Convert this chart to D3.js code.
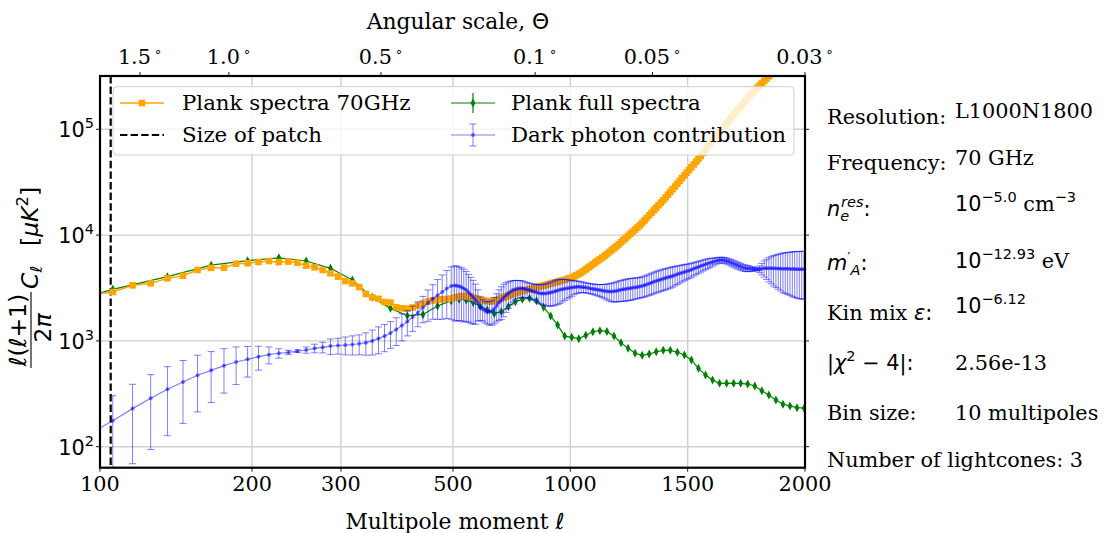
<!DOCTYPE html>
<html><head><meta charset="utf-8">
<script src="https://cdn.jsdelivr.net/npm/d3@7"></script>
<style>body{margin:0;background:#fff}svg{display:block}</style>
</head><body>
<svg id="c" width="1105" height="533"></svg>
<script>
// ---------------- DATA ----------------
// bin centres (10-multipole bins)
const binCentres = [96,106,116,126,136,146,156,166,176,186,196,206,216,226,236,246,256,266,276,286,296,306,316,326,336,346,356,366,376,386,396,406,416,426,436,446,456,466,476,486,496,506,516,526,536,546,556,566,576,586,596,606,616,626,636,646,656,666,676,686,696,706,716,726,736,746,756,766,776,786,796,806,816,826,836,846,856,866,876,886,896,906,916,926,936,946,956,966,976,986,996,
1006,1016,1026,1036,1046,1056,1066,1076,1086,1096,1106,1116,1126,1136,1146,1156,1166,1176,1186,1196,1206,1216,1226,1236,1246,1256,1266,1276,1286,1296,1306,1316,1326,1336,1346,1356,1366,1376,1386,1396,1406,1416,1426,1436,1446,1456,1466,1476,1486,1496,1506,1516,1526,1536,1546,1556,1566,1576,1586,1596,1606,1616,1626,1636,1646,1656,1666,1676,1686,1696,1706,1716,1726,1736,1746,1756,1766,1776,1786,1796,1806,1816,1826,1836,1846,1856,1866,1876,1886,1896,1906,1916,1926,1936,1946,1956,1966,1976,1986,1996];

// Plank spectra 70GHz  [muK^2]
const orangeValues = [2730,2900,3350,3500,3900,4130,4680,4900,4920,5370,5420,5570,5690,5550,5620,5480,5140,4960,4680,4350,4050,3680,3500,3230,2780,2580,2500,2330,2300,2080,2030,2015,2070,2160,2260,2360,2410,2440,2470,2490,2510,2550,2590,2620,2650,2660,2650,2630,2600,2560,2530,2490,2450,2430,2400,2380,2360,2370,2400,2440,2480,2530,2580,2620,2680,2730,2780,2830,2880,2930,2960,3000,3040,3080,3120,3160,3200,3250,3300,3340,3380,3430,3480,3530,3580,3630,3680,3730,3780,3840,3900,
3950,4060,4180,4300,4420,4570,4740,4920,5100,5300,5500,5700,5910,6140,6370,6620,6900,7190,7500,7820,8170,8550,8950,9380,9820,10280,10770,11270,11800,12360,13000,13740,14520,15350,16220,17140,18110,19140,20230,21380,22700,24100,25590,27160,28840,30620,32510,34510,36640,38900,41300,43850,46560,49430,52480,55980,59980,64270,68870,73790,78700,83560,88720,94190,100000,106400,113500,121100,129100,137700,146200,155200,164800,175000,185800,196800,208000,219800,232300,245500,258200,271600,285800,300600,316200,332700,349900,368100,387300,407400,428500,450800,474200,498900,524800,552100,580800,611000,642700,676100];

// Dark photon contribution (value and 1-sigma error)
const blueValues = [135,176,229,287,349,409,473,527,583,632,670,709,741,764,780,800,820,851,870,893,905,913,925,940,962,1000,1055,1110,1185,1280,1400,1525,1680,1850,2060,2280,2500,2700,2900,3130,3300,3330,3320,3280,3220,3130,3030,2880,2730,2590,2440,2290,2080,2000,1930,1890,1880,1920,2010,2150,2300,2420,2560,2700,2820,2930,3020,3080,3120,3140,3130,3100,3060,3020,2970,2920,2870,2830,2810,2800,2810,2830,2860,2900,2950,3000,3040,3080,3110,3140,3160,
3190,3220,3240,3250,3240,3220,3190,3160,3130,3100,3070,3040,3020,2990,2960,2940,2925,2925,2940,2970,3010,3040,3070,3100,3130,3150,3180,3200,3230,3260,3300,3350,3410,3480,3550,3620,3690,3750,3810,3870,3930,3990,4050,4110,4180,4260,4340,4410,4480,4550,4620,4700,4800,4900,5000,5100,5200,5300,5390,5480,5570,5660,5740,5800,5820,5780,5700,5600,5480,5370,5250,5130,5020,4930,4870,4830,4800,4780,4760,4750,4760,4800,4850,4860,4860,4860,4850,4840,4830,4820,4810,4800,4800,4790,4780,4770,4760,4750,4750,4750];
const blueErrors = [100,127,160,193,222,243,260,265,262,245,215,180,135,78,35,25,55,80,100,150,155,175,190,200,230,265,300,320,335,375,400,410,450,490,575,750,900,1100,1300,1500,1700,1780,1780,1720,1680,1620,1500,1380,1260,1150,1000,750,520,460,450,450,470,510,560,640,740,830,870,840,800,740,700,650,610,580,560,530,500,490,500,520,540,560,590,620,660,700,730,760,780,790,780,750,700,650,600,
550,490,440,410,380,360,345,340,340,350,360,375,390,420,460,500,540,580,610,640,660,680,700,720,730,735,730,725,720,720,730,750,770,790,810,830,850,860,870,880,890,900,900,890,870,850,830,800,780,760,730,710,690,670,650,630,610,600,570,530,480,430,390,365,360,365,375,385,395,395,390,380,365,350,340,320,280,230,180,150,350,600,850,1050,1250,1400,1550,1650,1750,1850,1950,2000,2050,2100,2150,2200,2230,2250,2270,2270];

// Plank full spectra (30-multipole bins)
const greenMultipoles = [76,106,136,166,196,226,256,286,316,346,376,406,436,466,496,526,556,586,616,646,676,706,736,766,796,826,856,886,916,946,976,1006,1036,1066,1096,1126,1156,1186,1216,1246,1276,1306,1336,1366,1396,1426,1456,1486,1516,1546,1576,1606,1636,1666,1696,1726,1756,1786,1816,1846,1876,1906,1936,1966,1996];
const greenValues = [2000,3070,4050,5200,5730,6100,5690,4850,3770,2580,2030,1730,1780,2140,2400,2480,2440,2300,2130,1960,1820,1890,2100,2350,2470,2530,2400,2080,1720,1410,1110,1080,1050,1130,1220,1250,1230,1110,960,850,765,730,750,790,815,815,780,735,660,550,475,427,397,397,397,397,391,375,338,308,276,252,243,234,231];
const greenErrors = [80,75,80,90,95,95,85,75,60,45,38,33,33,38,42,42,40,38,35,32,30,30,33,36,38,38,36,32,27,23,19,18,18,19,20,21,21,19,17,16,15,14,15,15,16,16,16,15,14,13,12,11,11,11,11,11,11,11,10,10,10,10,10,10,10];

const patchMultipole = 105;
const xTickValues = [100,200,300,500,1000,1500,2000];
const yTickExponents = [2,3,4,5];
const topTickMultipoles = [120,180,360,850,1350,2000];
const topTickLabels = ["1.5","1.0","0.5","0.1","0.05","0.03"];

if (orangeValues.length!==binCentres.length||blueValues.length!==binCentres.length||blueErrors.length!==binCentres.length||greenValues.length!==greenMultipoles.length||greenErrors.length!==greenMultipoles.length)
  throw new Error('length mismatch');

// ---------------- LAYOUT ----------------
const P = {l:100, r:805, t:76, b:467.7};
const SERIF = "'DejaVu Serif', serif";
const SANS = "'DejaVu Sans', sans-serif";
const FS = 20.8;

// x: log below 500, linear above
const xLog = d3.scaleLog().domain([100,500]).range([P.l, 453]);
const xLin = d3.scaleLinear().domain([500,2000]).range([453, P.r]);
const x = v => v <= 500 ? xLog(v) : xLin(v);
const y = d3.scaleLog().domain([63.3, 3.19e5]).range([P.b, P.t]);
const ySafe = v => y(Math.max(v, 1));

const svg = d3.select('#c');
svg.append('defs').append('clipPath').attr('id','clip').append('rect')
  .attr('x',P.l).attr('y',P.t).attr('width',P.r-P.l).attr('height',P.b-P.t);

function rich(parent, xx, yy, parts, anchor, size) {
  const t = parent.append('text').attr('x',xx).attr('y',yy).attr('text-anchor',anchor||'start')
    .attr('font-size',size||FS).attr('fill','#000').attr('font-family',SERIF);
  parts.forEach(p => {
    const ts = t.append('tspan').text(p.t).attr('font-family', p.f==='sans'?SANS:SERIF);
    if (p.i) ts.attr('font-style','italic');
    if (p.s) ts.attr('font-size', p.s);
    if (p.dy) ts.attr('dy', p.dy);
    if (p.dx) ts.attr('dx', p.dx);
  });
  return t;
}

// grid
const grid = svg.append('g').attr('stroke','#d0d0d0').attr('stroke-width',1.4);
yTickExponents.forEach(e => grid.append('line').attr('x1',P.l).attr('x2',P.r).attr('y1',y(10**e)).attr('y2',y(10**e)));
xTickValues.forEach(v => grid.append('line').attr('x1',x(v)).attr('x2',x(v)).attr('y1',P.t).attr('y2',P.b));

const plot = svg.append('g').attr('clip-path','url(#clip)');

// patch size
plot.append('line').attr('x1',x(patchMultipole)).attr('x2',x(patchMultipole)).attr('y1',P.t).attr('y2',P.b)
  .attr('stroke','#000').attr('stroke-width',2.2).attr('stroke-dasharray','7.4,3.2');

// green series
const green = '#008000';
const greenData = greenMultipoles.map((l,i)=>({l, v:greenValues[i], e:greenErrors[i]}));
const line = d3.line().x(d=>x(d.l)).y(d=>ySafe(d.v));
plot.append('path').datum(greenData).attr('d',line).attr('fill','none').attr('stroke',green).attr('stroke-width',1.2);
plot.selectAll('.gerr').data(greenData).enter().append('line')
  .attr('x1',d=>x(d.l)).attr('x2',d=>x(d.l)).attr('y1',d=>ySafe(d.v-d.e)).attr('y2',d=>ySafe(d.v+d.e))
  .attr('stroke',green).attr('stroke-width',1.2);
const diamond = (cx,cy) => `M${cx},${cy-4.5}L${cx+2.4},${cy}L${cx},${cy+4.5}L${cx-2.4},${cy}Z`;
plot.selectAll('.gd').data(greenData).enter().append('path')
  .attr('d',d=>diamond(x(d.l),ySafe(d.v))).attr('fill',green);

// orange series
const orange = '#ffa500';
const orangeData = binCentres.map((l,i)=>({l, v:orangeValues[i]}));
plot.append('path').datum(orangeData).attr('d',line).attr('fill','none').attr('stroke',orange).attr('stroke-width',1.5);
plot.selectAll('.os').data(orangeData).enter().append('rect')
  .attr('x',d=>x(d.l)-3.3).attr('y',d=>ySafe(d.v)-3.3).attr('width',6.6).attr('height',6.6).attr('fill',orange);

// blue series
const blueData = binCentres.map((l,i)=>({l, v:blueValues[i], e:blueErrors[i]}));
const bg = plot.append('g');
blueData.forEach(d => {
  const cx = x(d.l), y1 = ySafe(d.v-d.e), y2 = ySafe(d.v+d.e);
  bg.append('line').attr('x1',cx).attr('x2',cx).attr('y1',y1).attr('y2',y2).attr('stroke','blue').attr('stroke-opacity',0.5).attr('stroke-width',1);
  [y1,y2].forEach(yy => bg.append('line').attr('x1',cx-3.5).attr('x2',cx+3.5).attr('y1',yy).attr('y2',yy).attr('stroke','blue').attr('stroke-opacity',0.5).attr('stroke-width',1));
});
plot.append('path').datum(blueData).attr('d',line).attr('fill','none').attr('stroke','blue').attr('stroke-opacity',0.5).attr('stroke-width',1.2);
plot.selectAll('.bd').data(blueData).enter().append('circle')
  .attr('cx',d=>x(d.l)).attr('cy',d=>ySafe(d.v)).attr('r',2).attr('fill','blue').attr('fill-opacity',0.5);

// frame
svg.append('rect').attr('x',P.l).attr('y',P.t).attr('width',P.r-P.l).attr('height',P.b-P.t)
  .attr('fill','none').attr('stroke','#000').attr('stroke-width',2.2);

// ticks
const ticks = svg.append('g').attr('stroke','#000').attr('stroke-width',0.9);
xTickValues.forEach(v => ticks.append('line').attr('x1',x(v)).attr('x2',x(v)).attr('y1',P.b).attr('y2',P.b+4));
yTickExponents.forEach(e => {
  ticks.append('line').attr('x1',P.l-4).attr('x2',P.l).attr('y1',y(10**e)).attr('y2',y(10**e));
  ticks.append('line').attr('x1',P.r).attr('x2',P.r+4).attr('y1',y(10**e)).attr('y2',y(10**e));
});
topTickMultipoles.forEach(v => ticks.append('line').attr('x1',x(v)).attr('x2',x(v)).attr('y1',P.t).attr('y2',P.t-4));

// tick labels
xTickValues.forEach(v => rich(svg, x(v), 491, [{t:String(v)}], 'middle'));
yTickExponents.forEach(e => rich(svg, 94, y(10**e)+8, [{t:'10',f:'sans'},{t:String(e),f:'sans',s:14.5,dy:-9}], 'end'));
topTickMultipoles.forEach((v,i) => rich(svg, x(v), 64, [{t:topTickLabels[i]},{t:'∘',f:'sans',s:13,dy:-8,dx:3}], 'middle'));

// axis labels
rich(svg, 458, 29, [{t:'Angular scale, '},{t:'Θ',f:'sans'}], 'middle', 21.8);
rich(svg, 455, 529, [{t:'Multipole moment '},{t:'ℓ',f:'sans',i:true}], 'middle', 21.8);
const YS = 23.5, YSS = 16.5;
const yl = svg.append('g').attr('transform','translate(31,272) rotate(-90)');
rich(yl, -58, -5, [{t:'ℓ',f:'sans',i:true},{t:'(',f:'sans'},{t:'ℓ',f:'sans',i:true},{t:'+1)',f:'sans'}], 'middle', YS);
yl.append('line').attr('x1',-96).attr('x2',-20).attr('y1',0).attr('y2',0).attr('stroke','#000').attr('stroke-width',1.1);
rich(yl, -56, 20, [{t:'2',f:'sans'},{t:'π',f:'sans',i:true}], 'middle', YS);
rich(yl, -17, 7, [{t:'C',f:'sans',i:true},{t:'ℓ',f:'sans',i:true,s:YSS,dy:4}], 'start', YS);
rich(yl, 26, 7, [{t:'[',f:'sans'},{t:'μK',f:'sans',i:true},{t:'2',f:'sans',s:YSS,dy:-10},{t:']',f:'sans',dy:10}], 'start', YS);

// legend
const LS = 21.3;
const lg = svg.append('g');
lg.append('rect').attr('x',113).attr('y',86.7).attr('width',681).attr('height',68.3).attr('rx',4)
  .attr('fill','#fff').attr('fill-opacity',0.8).attr('stroke','#d0d0d0').attr('stroke-width',1);
const r1 = 103, r2 = 135;
lg.append('line').attr('x1',120).attr('x2',164).attr('y1',r1).attr('y2',r1).attr('stroke',orange).attr('stroke-width',1.5);
lg.append('rect').attr('x',142-3.3).attr('y',r1-3.3).attr('width',6.6).attr('height',6.6).attr('fill',orange);
rich(lg, 182, r1+7, [{t:'Plank spectra 70GHz'}], 'start', LS);
lg.append('line').attr('x1',120).attr('x2',164).attr('y1',r2).attr('y2',r2).attr('stroke','#000').attr('stroke-width',2.2).attr('stroke-dasharray','7.4,3.2');
rich(lg, 182, r2+7, [{t:'Size of patch'}], 'start', LS);
lg.append('line').attr('x1',451).attr('x2',495).attr('y1',r1).attr('y2',r1).attr('stroke',green).attr('stroke-width',1.2);
lg.append('line').attr('x1',473).attr('x2',473).attr('y1',r1-10).attr('y2',r1+10).attr('stroke',green).attr('stroke-width',1.2);
lg.append('path').attr('d',diamond(473,r1)).attr('fill',green);
rich(lg, 511, r1+7, [{t:'Plank full spectra'}], 'start', LS);
lg.append('line').attr('x1',451).attr('x2',495).attr('y1',r2).attr('y2',r2).attr('stroke','blue').attr('stroke-opacity',0.5).attr('stroke-width',1.2);
lg.append('line').attr('x1',473).attr('x2',473).attr('y1',r2-11).attr('y2',r2+11).attr('stroke','blue').attr('stroke-opacity',0.5);
[r2-11,r2+11].forEach(yy => lg.append('line').attr('x1',469.5).attr('x2',476.5).attr('y1',yy).attr('y2',yy).attr('stroke','blue').attr('stroke-opacity',0.5));
lg.append('circle').attr('cx',473).attr('cy',r2).attr('r',2).attr('fill','blue').attr('fill-opacity',0.5);
rich(lg, 511, r2+7, [{t:'Dark photon contribution'}], 'start', LS);

// info panel
const LX = 827, VX = 955;
const info = svg.append('g');
rich(info, LX, 124, [{t:'Resolution:'}]);
rich(info, VX, 118, [{t:'L1000N1800'}]);
rich(info, LX, 170, [{t:'Frequency:'}]);
rich(info, VX, 165, [{t:'70 GHz'}]);
rich(info, LX, 216, [{t:'n',f:'sans',i:true},{t:'e',f:'sans',i:true,s:14.5,dy:5},{t:'res',f:'sans',i:true,s:14.5,dy:-14,dx:-8},{t:':',f:'sans',dy:9}]);
rich(info, VX, 211, [{t:'10',f:'sans'},{t:'−5.0',f:'sans',s:14.5,dy:-9},{t:' cm',dy:9},{t:'−3',f:'sans',s:14.5,dy:-9}]);
rich(info, LX, 270, [{t:'m',f:'sans',i:true},{t:'′',f:'sans',s:14.5,dy:-8},{t:'A',f:'sans',i:true,s:14.5,dy:13},{t:':',f:'sans',dy:-5}]);
rich(info, VX, 268, [{t:'10',f:'sans'},{t:'−12.93',f:'sans',s:14.5,dy:-9},{t:' eV',dy:9}]);
rich(info, LX, 320, [{t:'Kin mix '},{t:'ε',f:'sans',i:true},{t:':',f:'sans'}]);
rich(info, VX, 313, [{t:'10',f:'sans'},{t:'−6.12',f:'sans',s:14.5,dy:-9}]);
rich(info, LX, 370, [{t:'|',f:'sans'},{t:'χ',f:'sans',i:true},{t:'2',f:'sans',s:14.5,dy:-9},{t:' − 4|:',f:'sans',dy:9}]);
rich(info, VX, 370, [{t:'2.56e-13'}]);
rich(info, LX, 420, [{t:'Bin size:'}]);
rich(info, VX, 420, [{t:'10 multipoles'}]);
rich(info, LX, 467, [{t:'Number of lightcones: 3'}]);
</script>
</body></html>
